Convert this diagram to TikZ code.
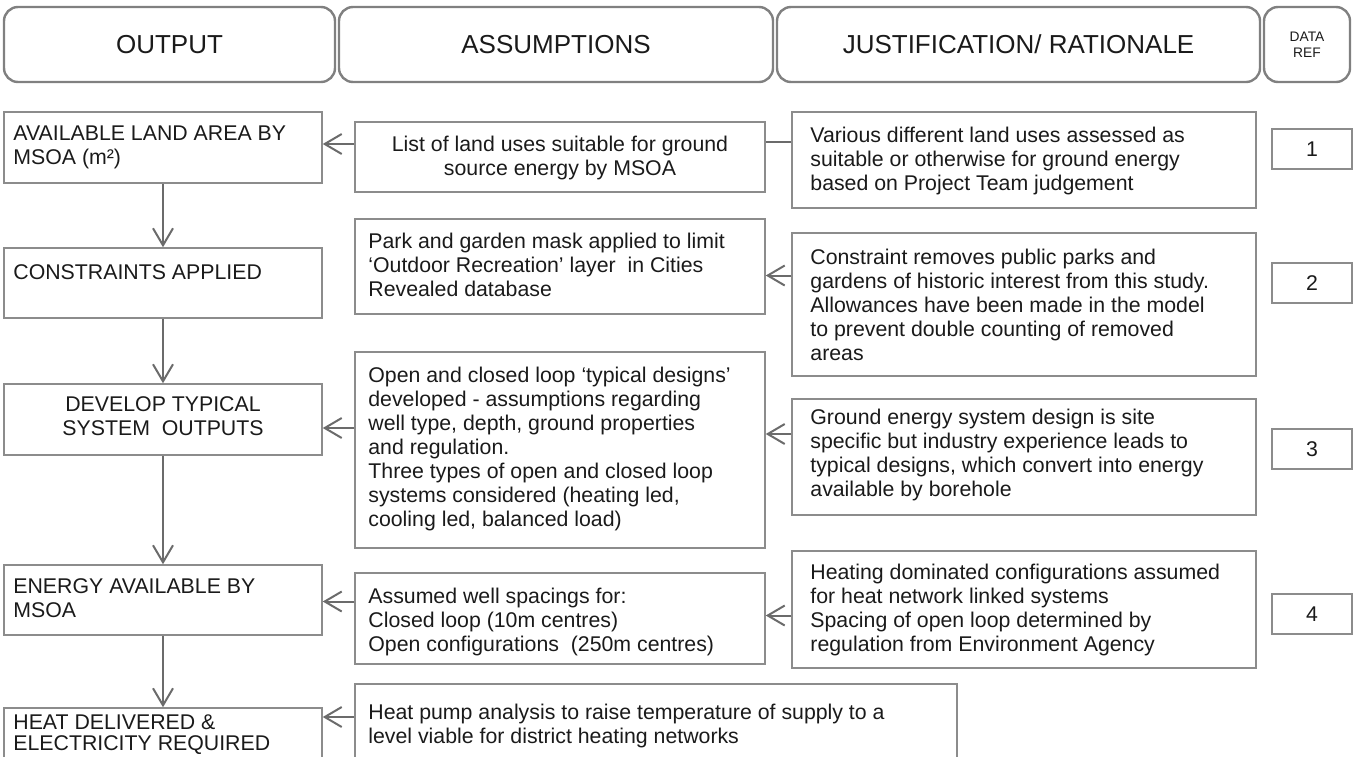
\documentclass[tikz,border=0pt]{standalone}
\usepackage{fontspec}
\setmainfont{Liberation Sans}
\usetikzlibrary{arrows.meta,fit}
\definecolor{boxgray}{HTML}{8C8C8C}
\definecolor{hdrgray}{HTML}{808080}
\definecolor{arrgray}{HTML}{6B6B6B}
\definecolor{txtcol}{HTML}{1A1A1A}
\begin{document}
\begin{tikzpicture}[x=0.5pt,y=-0.5pt,
  box/.style={draw=boxgray, line width=0.75pt, inner sep=0pt},
  hdr/.style={draw=hdrgray, line width=1.2pt, rounded corners=7pt, inner sep=0pt},
  lbl/.style={inner sep=0pt, align=left, anchor=north west, text=txtcol,
    font=\fontsize{10.65pt}{12pt}\selectfont, execute at begin node=\strut},
  clbl/.style={lbl, align=center, anchor=north},
  htxt/.style={text=txtcol, font=\fontsize{13pt}{15pt}\selectfont},
  arr/.style={draw=arrgray, line width=1pt, -{Straight Barb[length=8.5pt,width=10pt]}},
  link/.style={draw=arrgray, line width=1.2pt},
]
\useasboundingbox (0,0) rectangle (1358,756);
\clip (0,0) rectangle (1358,756);

% header
\node[hdr, fit={(4,7) (335,82)}] (hout) {};
\node[hdr, fit={(339,7) (773,82)}] (hass) {};
\node[hdr, fit={(777,7) (1260,82)}] (hjus) {};
\node[hdr, fit={(1264,7) (1350,82)}] (href) {};
\node[htxt] (houtT) at (hout.center) {OUTPUT};
\node[htxt] (hassT) at (hass.center) {ASSUMPTIONS};
\node[htxt] (hjusT) at (hjus.center) {JUSTIFICATION/ RATIONALE};
\node[text=txtcol, align=center, font=\fontsize{6.9pt}{8pt}\selectfont] (hrefT) at (href.center) {DATA\\REF};

% left column
\node[box, fit={(4,112) (322,183)}] (avail) {};
\node[lbl] (availT) at (13,125) {AVAILABLE LAND AREA BY\\MSOA (m²)};
\node[box, fit={(4,248) (322,318)}] (cons) {};
\node[lbl] (consT) at (13,262) {CONSTRAINTS APPLIED};
\node[box, fit={(4,384) (322,455)}] (dev) {};
\node[clbl] (devT) at (163,396) {DEVELOP TYPICAL\\SYSTEM~ OUTPUTS};
\node[box, fit={(4,708) (322,800)}] (heat) {};
\node[box, fit={(4,565) (322,635)}] (energy) {};
\node[lbl] (energyT) at (13,578) {ENERGY AVAILABLE BY\\MSOA};
\node[lbl, font=\fontsize{10.65pt}{10.6pt}\selectfont] (heatT) at (13,714) {HEAT DELIVERED \&\\ELECTRICITY REQUIRED};

% middle column
\node[box, fit={(355,122) (765,192)}] (list) {};
\node[clbl] (listT) at (560,136) {List of land uses suitable for ground\\source energy by MSOA};
\node[box, fit={(355,219) (765,314)}] (park) {};
\node[lbl] (parkT) at (368,233) {Park and garden mask applied to limit\\‘Outdoor Recreation’ layer~ in Cities\\Revealed database};
\node[box, fit={(355,352) (765,548)}] (open) {};
\node[lbl] (openT) at (368,367) {Open and closed loop ‘typical designs’\\developed - assumptions regarding\\well type, depth, ground properties\\and regulation.\\Three types of open and closed loop\\systems considered (heating led,\\cooling led, balanced load)};
\node[box, fit={(355,573) (765,664)}] (spac) {};
\node[lbl] (spacT) at (368,588) {Assumed well spacings for:\\Closed loop (10m centres)\\Open configurations~ (250m centres)};
\node[box, fit={(355,684) (957,800)}] (pump) {};
\node[lbl] (pumpT) at (368,704) {Heat pump analysis to raise temperature of supply to a\\level viable for district heating networks};

% right column
\node[box, fit={(792,112) (1256,208)}] (vari) {};
\node[lbl] (variT) at (810,127) {Various different land uses assessed as\\suitable or otherwise for ground energy\\based on Project Team judgement};
\node[box, fit={(792,233) (1256,376)}] (crem) {};
\node[lbl] (cremT) at (810,249) {Constraint removes public parks and\\gardens of historic interest from this study.\\Allowances have been made in the model\\to prevent double counting of removed\\areas};
\node[box, fit={(792,399) (1256,515)}] (gsys) {};
\node[lbl] (gsysT) at (810,409) {Ground energy system design is site\\specific but industry experience leads to\\typical designs, which convert into energy\\available by borehole};
\node[box, fit={(792,551) (1256,668)}] (hdom) {};
\node[lbl] (hdomT) at (810,564) {Heating dominated configurations assumed\\for heat network linked systems\\Spacing of open loop determined by\\regulation from Environment Agency};

% data ref
\node[box, fit={(1272,129) (1352,169)}] (r1) {};
\node[htxt, font=\fontsize{10.65pt}{12.5pt}\selectfont] (r1T) at (r1.center) {1};
\node[box, fit={(1272,263) (1352,303)}] (r2) {};
\node[htxt, font=\fontsize{10.65pt}{12.5pt}\selectfont] (r2T) at (r2.center) {2};
\node[box, fit={(1272,429) (1352,469)}] (r3) {};
\node[htxt, font=\fontsize{10.65pt}{12.5pt}\selectfont] (r3T) at (r3.center) {3};
\node[box, fit={(1272,594) (1352,634)}] (r4) {};
\node[htxt, font=\fontsize{10.65pt}{12.5pt}\selectfont] (r4T) at (r4.center) {4};

% vertical flow
\draw[arr] (avail.south) -- (cons.north);
\draw[arr] (cons.south) -- (dev.north);
\draw[arr] (dev.south) -- (energy.north);
\draw[arr] (energy.south) -- (heat.north);

% horizontal connectors
\draw[arr] ([yshift=6.5pt]list.west) -- ([yshift=6.5pt]list.west -| avail.east);
\draw[link] ([yshift=7.5pt]list.east) -- ([yshift=7.5pt]list.east -| vari.west);
\draw[arr] ([yshift=14.5pt]crem.west) -- ([yshift=14.5pt]crem.west -| park.east);
\draw[arr] ([yshift=11pt]open.west) -- ([yshift=11pt]open.west -| dev.east);
\draw[arr] ([yshift=11.5pt]gsys.west) -- ([yshift=11.5pt]gsys.west -| open.east);
\draw[arr] ([yshift=8.5pt]spac.west) -- ([yshift=8.5pt]spac.west -| energy.east);
\draw[arr] ([yshift=-3pt]hdom.west) -- ([yshift=-3pt]hdom.west -| spac.east);
\draw[arr] ([yshift=12.5pt]pump.west) -- ([yshift=12.5pt]pump.west -| heat.east);
\end{tikzpicture}
\end{document}
